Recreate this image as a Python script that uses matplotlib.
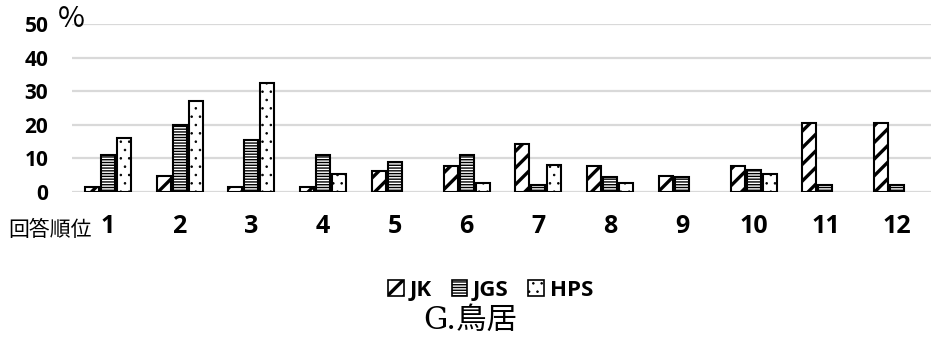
import numpy as np
import matplotlib.pyplot as plt

plt.rcParams['font.family'] = ['Open Sans', 'Noto Sans CJK JP', 'DejaVu Sans']

# 回答順位ごとの割合 (%)
ranks = ['1', '2', '3', '4', '5', '6', '7', '8', '9', '10', '11', '12']
jk = [1.6, 4.8, 1.6, 1.6, 6.3, 7.9, 14.3, 7.9, 4.8, 7.9, 20.6, 20.6]
jgs = [11.1, 20.0, 15.6, 11.1, 8.9, 11.1, 2.2, 4.4, 4.4, 6.7, 2.2, 2.2]
hps = [16.2, 27.0, 32.4, 5.4, None, 2.7, 8.1, 2.7, None, 5.4, None, None]

series = [('JK', jk, '//'), ('JGS', jgs, '------'), ('HPS', hps, '..')]
hatch_lw = {'JK': 2.4, 'JGS': 1.0, 'HPS': 0.6}

fig = plt.figure(figsize=(9.31, 3.43), dpi=100)
ax = fig.add_axes([0.0773, 0.44, 0.925, 0.49])

x = np.arange(len(ranks))
width = 0.195
step = 0.223
handles = []
for i, (name, vals, hatch) in enumerate(series):
    vals = np.array([np.nan if v is None else v for v in vals])
    # hatch linewidth is picked up from rcParams when the bars are made
    with plt.rc_context({'hatch.linewidth': hatch_lw[name]}):
        bars = ax.bar(x + (i - 1) * step, vals, width, facecolor='white',
                      edgecolor='black', linewidth=1.5, hatch=hatch,
                      label=name, zorder=3)
    handles.append(bars)

ax.set_ylim(0, 50)
ax.set_xlim(-0.5, 11.5)
ax.set_yticks(range(0, 51, 10))
ax.yaxis.grid(True, color='#d9d9d9', linewidth=1.6, zorder=0)
for s in ax.spines.values():
    s.set_visible(False)
ax.tick_params(axis='both', length=0)
ax.tick_params(axis='y', labelsize=15, pad=17)
ax.tick_params(axis='x', labelsize=18, pad=16)
ax.set_xticks(x)
ax.set_xticklabels(ranks, fontweight='bold')
for lbl in ax.get_yticklabels():
    lbl.set_fontweight('bold')

fig.text(0.062, 0.945, '%', fontsize=21, ha='left', va='center',
         family=['Noto Sans CJK JP', 'DejaVu Sans'])
fig.text(0.009, 0.33, '回答順位', fontsize=15, ha='left', va='center',
         family=['Noto Sans CJK JP', 'DejaVu Sans'])

leg = fig.legend(handles=handles, loc='center', bbox_to_anchor=(0.527, 0.153),
                 ncol=3, frameon=False, handlelength=0.7, handleheight=0.7,
                 handletextpad=0.25, columnspacing=0.9,
                 prop={'weight': 'bold', 'size': 16})
for h, (name, _, _) in zip(leg.legend_handles, series):
    h.set_linewidth(1.2)
    h.set_hatch_linewidth(hatch_lw[name])

fig.text(0.505, 0.066, 'G.鳥居', fontsize=22, ha='center', va='center',
         family=['DejaVu Serif', 'Noto Sans CJK JP'])

fig.savefig('out.png', dpi=100)
